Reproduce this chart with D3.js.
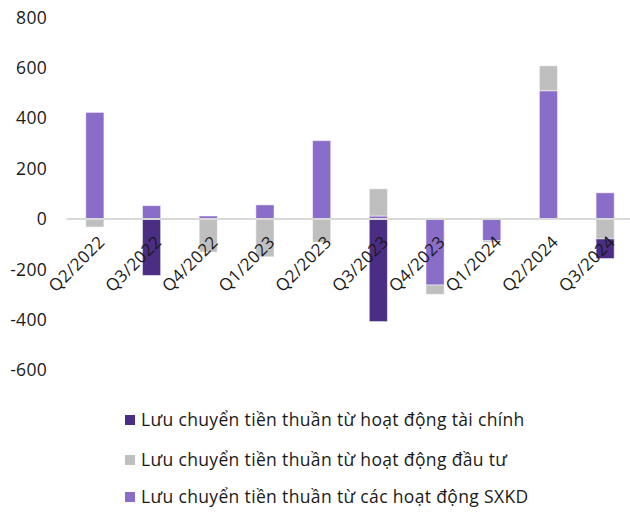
<!DOCTYPE html>
<html>
<head>
<meta charset="utf-8">
<script src="https://cdn.jsdelivr.net/npm/d3@7"></script>
<style>
  body { margin: 0; background: #fff; }
  svg text { font-family: "Open Sans", "Noto Sans", sans-serif; fill: #1a1a1a; }
</style>
</head>
<body>
<div id="chart"></div>
<script>
// quarters on the x axis
const quarters = ['Q2/2022', 'Q3/2022', 'Q4/2022', 'Q1/2023', 'Q2/2023',
                  'Q3/2023', 'Q4/2023', 'Q1/2024', 'Q2/2024', 'Q3/2024'];
// net cash flows
const operating = [423, 53, 12, 56, 311, 12, -262, -86, 509, 104];
const investing = [-32, 0, -131, -150, -92, 108, -37, -6, 99, -79];
const financing = [0, -224, 0, 0, 0, -407, 0, 0, 0, -78];
const yTicks = [-600, -400, -200, 0, 200, 400, 600, 800];

const seriesNames = {
    financing: 'Lưu chuyển tiền thuần từ hoạt động tài chính',
    investing: 'Lưu chuyển tiền thuần từ hoạt động đầu tư',
    operating: 'Lưu chuyển tiền thuần từ các hoạt động SXKD',
};
const colors = { financing: '#4b2e83', investing: '#bfbfbf', operating: '#8a6cc9' };

const width = 630;
const height = 513;

// table for d3.stack
const rows = quarters.map((q, i) => ({
    quarter: q,
    operating: operating[i],
    investing: investing[i],
    financing: financing[i],
}));

// operating sits next to zero, then investing, then financing
const stacked = d3.stack()
    .keys(['operating', 'investing', 'financing'])
    .offset(d3.stackOffsetDiverging)(rows);

const svg = d3.select('#chart')
    .append('svg')
    .attr('width', width)
    .attr('height', height);

const x = d3.scaleBand()
    .domain(quarters)
    .range([66.5, 633.5])
    .paddingInner(0.68)
    .paddingOuter(0.34);

const y = d3.scaleLinear().domain([-600, 800]).range([370.2, 17.4]);

// y tick labels only, no axis line; plain hyphen for negatives
const yAxis = svg.append('g')
    .attr('transform', 'translate(47,0)')
    .call(d3.axisLeft(y).tickValues(yTicks).tickSize(0).tickPadding(0)
        .tickFormat((d) => String(d)));
yAxis.select('.domain').remove();
yAxis.selectAll('text')
    .style('font-size', '17.5px')
    .style('letter-spacing', '0.3px')
    .attr('fill', '#1a1a1a');

// bars
svg.append('g')
    .selectAll('g')
    .data(stacked)
    .join('g')
    .attr('fill', (s) => colors[s.key])
    .selectAll('rect')
    .data((s) => s)
    .join('rect')
    .attr('x', (d) => x(d.data.quarter))
    .attr('width', x.bandwidth())
    .attr('y', (d) => y(Math.max(d[0], d[1])))
    .attr('height', (d) => Math.abs(y(d[0]) - y(d[1])))
    .attr('stroke', '#ffffff')
    .attr('stroke-opacity', 0.5)
    .attr('stroke-width', 1);

// zero line
svg.append('line')
    .attr('x1', 66.5)
    .attr('x2', 633.5)
    .attr('y1', y(0))
    .attr('y2', y(0))
    .attr('stroke', '#d9d9d9')
    .attr('stroke-width', 2);

// rotated category labels
svg.append('g')
    .selectAll('text')
    .data(quarters)
    .join('text')
    .attr('transform', (d) => `translate(${x(d) + x.bandwidth() / 2 + 11},${y(0) + 24}) rotate(-45)`)
    .attr('text-anchor', 'end')
    .style('font-size', '17px')
    .style('letter-spacing', '0.4px')
    .text((d) => d);

// legend
const legendKeys = ['financing', 'investing', 'operating'];
const legendY = [420, 460, 497];
const legend = svg.append('g')
    .selectAll('g')
    .data(legendKeys)
    .join('g')
    .attr('transform', (d, i) => `translate(125,${legendY[i]})`);

legend.append('rect')
    .attr('y', -5)
    .attr('width', 10)
    .attr('height', 10)
    .attr('fill', (d) => colors[d]);

legend.append('text')
    .attr('x', 16)
    .attr('dy', '0.36em')
    .style('font-size', '17.5px')
    .style('letter-spacing', '0.35px')
    .text((d) => seriesNames[d]);
</script>
</body>
</html>
